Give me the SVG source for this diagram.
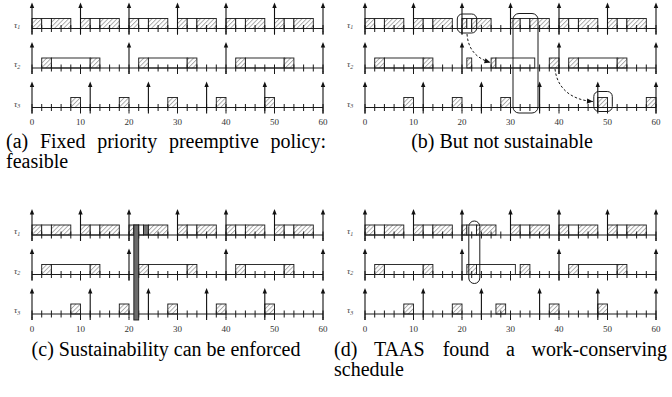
<svg xmlns="http://www.w3.org/2000/svg" xmlns:xlink="http://www.w3.org/1999/xlink" width="672" height="397" viewBox="0 0 672 397">
<style>
.h{fill:url(#hatch);stroke:#1a1a1a;stroke-width:.9}
.w{fill:#fff;stroke:#1a1a1a;stroke-width:.9}
.g{fill:#777;stroke:#1a1a1a;stroke-width:.9}
.ax{stroke:#1a1a1a;stroke-width:1.1;fill:none}
.tk{stroke:#1a1a1a;stroke-width:7;stroke-dasharray:1 8.7;fill:none}
.tk2{stroke:#1a1a1a;stroke-width:3;stroke-dasharray:1 47.5;fill:none}
.tl{font-family:"Liberation Serif",serif;font-style:italic;font-size:9px;fill:#444}
.num{font-family:"Liberation Serif",serif;font-size:9px;fill:#333;text-anchor:middle}
.cap{font-family:"Liberation Serif",serif;font-size:20px;fill:#000}
.hl{fill:none;stroke:#1a1a1a;stroke-width:1}
.dash{fill:none;stroke:#1a1a1a;stroke-width:1;stroke-dasharray:2.5 2}
</style>
<defs>
<pattern id="hatch" patternUnits="userSpaceOnUse" width="3.2" height="3.2" patternTransform="rotate(45)">
<rect width="3.2" height="3.2" fill="#fff"/>
<line x1="0.5" y1="0" x2="0.5" y2="3.2" stroke="#888" stroke-width=".7"/>
</pattern>
<marker id="dh" markerUnits="userSpaceOnUse" markerWidth="8" markerHeight="8" viewBox="-7 -4 8 8" refX="0" refY="0" orient="auto">
<path d="M-6,-2.6L0,0L-6,2.6z" fill="#111"/>
</marker>
<g id="rel"><path d="M0,6V-21" stroke="#111" stroke-width="1.1"/><path d="M-2.2,-20.5L0,-26L2.2,-20.5z" fill="#111"/></g>
<g id="j1"><rect class="h" x="0" y="0" width="9.7" height="10"/><rect class="w" x="9.7" y="0" width="9.7" height="10"/><rect class="h" x="19.4" y="0" width="19.4" height="10"/></g>
<g id="j2"><rect class="h" x="0" y="0" width="9.7" height="10"/><rect class="w" x="9.7" y="0" width="38.8" height="10"/><rect class="h" x="48.5" y="0" width="9.7" height="10"/></g>
<rect id="j3" class="h" x="0" y="0" width="9.7" height="10"/>
<g id="frame">
<path class="ax" d="M32,28.5H323M32,68H323M32,107.5H323"/>
<path class="tk" d="M31.5,28.5H323.5M31.5,68H323.5M31.5,107.5H323.5"/>
<path class="tk2" d="M31.5,33H323.5M31.5,72.5H323.5M31.5,112H323.5"/>
<use href="#rel" x="32" y="28.5"/><use href="#rel" x="80.5" y="28.5"/><use href="#rel" x="129" y="28.5"/><use href="#rel" x="177.5" y="28.5"/><use href="#rel" x="226" y="28.5"/><use href="#rel" x="274.5" y="28.5"/><use href="#rel" x="323" y="28.5"/>
<use href="#rel" x="32" y="68"/><use href="#rel" x="129" y="68"/><use href="#rel" x="226" y="68"/><use href="#rel" x="323" y="68"/>
<use href="#rel" x="32" y="107.5"/><use href="#rel" x="90.2" y="107.5"/><use href="#rel" x="148.4" y="107.5"/><use href="#rel" x="206.6" y="107.5"/><use href="#rel" x="264.8" y="107.5"/><use href="#rel" x="323" y="107.5"/>
<text class="tl" x="14" y="27.5">τ<tspan font-size="6" dy="1.8">1</tspan></text>
<text class="tl" x="14" y="67">τ<tspan font-size="6" dy="1.8">2</tspan></text>
<text class="tl" x="14" y="106.5">τ<tspan font-size="6" dy="1.8">3</tspan></text>
<text class="num" y="125"><tspan x="32">0</tspan><tspan x="80.5">10</tspan><tspan x="129">20</tspan><tspan x="177.5">30</tspan><tspan x="226">40</tspan><tspan x="274.5">50</tspan><tspan x="323">60</tspan></text>
</g>
</defs>

<g id="panel-a">
<use href="#j1" x="32" y="18.5"/><use href="#j1" x="80.5" y="18.5"/><use href="#j1" x="129" y="18.5"/><use href="#j1" x="177.5" y="18.5"/><use href="#j1" x="226" y="18.5"/><use href="#j1" x="274.5" y="18.5"/>
<use href="#j2" x="41.7" y="58"/><use href="#j2" x="138.7" y="58"/><use href="#j2" x="235.7" y="58"/>
<use href="#j3" x="70.8" y="97.5"/><use href="#j3" x="119.3" y="97.5"/><use href="#j3" x="167.8" y="97.5"/><use href="#j3" x="216.3" y="97.5"/><use href="#j3" x="264.8" y="97.5"/>
<use href="#frame"/>
</g>

<g id="panel-b" transform="translate(333,0)">
<use href="#j1" x="32" y="18.5"/><use href="#j1" x="80.5" y="18.5"/><use href="#j1" x="177.5" y="18.5"/><use href="#j1" x="226" y="18.5"/><use href="#j1" x="274.5" y="18.5"/>
<rect class="h" x="129" y="18.5" width="4.85" height="10"/><rect class="w" x="133.85" y="18.5" width="4.85" height="10"/><rect class="h" x="138.7" y="18.5" width="19.4" height="10"/>
<use href="#j2" x="41.7" y="58"/><use href="#j2" x="235.7" y="58"/>
<rect class="h" x="133.85" y="58" width="4.85" height="10"/>
<rect class="h" x="158.1" y="58" width="4.85" height="10"/><rect class="w" x="162.95" y="58" width="38.8" height="10"/>
<rect class="h" x="216.3" y="58" width="9.7" height="10"/>
<use href="#j3" x="70.8" y="97.5"/><use href="#j3" x="119.3" y="97.5"/><use href="#j3" x="167.8" y="97.5"/><use href="#j3" x="264.8" y="97.5"/><use href="#j3" x="313.3" y="97.5"/>
<use href="#frame"/>
<g id="connectors-b">
<rect class="hl" x="124.3" y="14" width="19.4" height="19" rx="5"/>
<rect class="hl" x="180" y="13.5" width="25" height="99.5" rx="6"/>
<rect class="hl" x="260.8" y="91.5" width="18.5" height="20" rx="5"/>
<path class="dash" d="M134,34C135,48 142,58 157.5,62.5" marker-end="url(#dh)"/>
<path class="dash" d="M222,69C224,88 238,100 260,101.5" marker-end="url(#dh)"/>
</g>
</g>

<g id="panel-c" transform="translate(0,206.5)">
<use href="#j1" x="32" y="18.5"/><use href="#j1" x="80.5" y="18.5"/><use href="#j1" x="177.5" y="18.5"/><use href="#j1" x="226" y="18.5"/><use href="#j1" x="274.5" y="18.5"/>
<rect class="h" x="129" y="18.5" width="4.85" height="10"/><rect class="w" x="133.85" y="18.5" width="4.85" height="10"/><rect class="w" x="138.7" y="18.5" width="4.85" height="10"/><rect class="g" x="143.55" y="18.5" width="4.85" height="10"/><rect class="h" x="148.4" y="18.5" width="19.4" height="10"/>
<use href="#j2" x="41.7" y="58"/><use href="#j2" x="138.7" y="58"/><use href="#j2" x="235.7" y="58"/>
<use href="#j3" x="70.8" y="97.5"/><use href="#j3" x="119.3" y="97.5"/><use href="#j3" x="167.8" y="97.5"/><use href="#j3" x="216.3" y="97.5"/><use href="#j3" x="264.8" y="97.5"/>
<use href="#frame"/>
<rect class="g" x="133.85" y="18.5" width="4.85" height="95" style="fill:#6b6b6b"/>
</g>

<g id="panel-d" transform="translate(333,206.5)">
<use href="#j1" x="32" y="18.5"/><use href="#j1" x="80.5" y="18.5"/><use href="#j1" x="177.5" y="18.5"/><use href="#j1" x="226" y="18.5"/><use href="#j1" x="274.5" y="18.5"/>
<rect class="h" x="129" y="18.5" width="4.85" height="10"/><rect class="w" x="133.85" y="18.5" width="9.7" height="10"/><rect class="h" x="143.55" y="18.5" width="19.4" height="10"/>
<use href="#j2" x="41.7" y="58"/><use href="#j2" x="235.7" y="58"/>
<rect class="h" x="133.85" y="58" width="9.7" height="10"/><rect class="w" x="143.55" y="58" width="38.8" height="10"/><rect class="h" x="187.2" y="58" width="9.7" height="10"/>
<use href="#j3" x="70.8" y="97.5"/><use href="#j3" x="119.3" y="97.5"/><use href="#j3" x="162.95" y="97.5"/><use href="#j3" x="216.3" y="97.5"/><use href="#j3" x="264.8" y="97.5"/>
<use href="#frame"/>
<rect class="hl" x="135.8" y="14.5" width="11" height="62.5" rx="5.5"/>
</g>

<g id="captions">
<text class="cap" y="148"><tspan x="6">(a)</tspan><tspan x="39.9">Fixed</tspan><tspan x="97.2">priority</tspan><tspan x="168.9">preemptive</tspan><tspan x="270.5">policy:</tspan></text>
<text class="cap" x="6" y="168">feasible</text>
<text class="cap" x="502" y="148" text-anchor="middle">(b) But not sustainable</text>
<text class="cap" x="166" y="356" text-anchor="middle">(c) Sustainability can be enforced</text>
<text class="cap" y="356"><tspan x="334">(d)</tspan><tspan x="373.9">TAAS</tspan><tspan x="442.7">found</tspan><tspan x="506">a</tspan><tspan x="531.5">work-conserving</tspan></text>
<text class="cap" x="334" y="376">schedule</text>
</g>
</svg>
